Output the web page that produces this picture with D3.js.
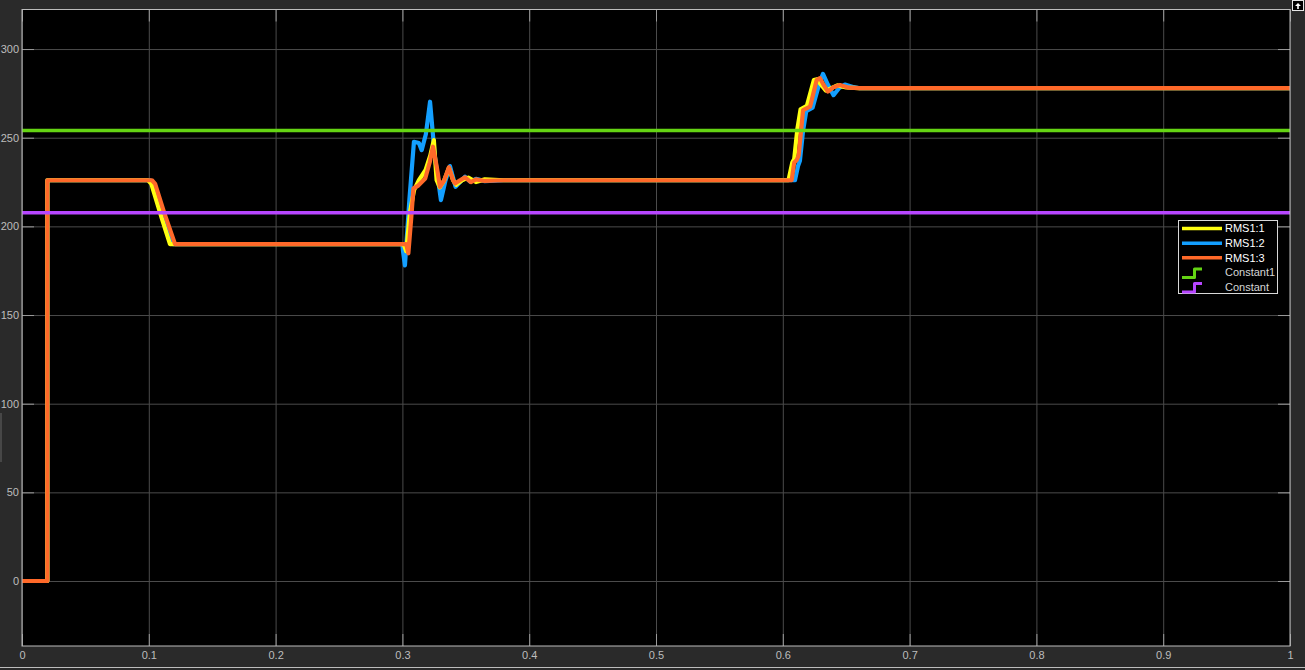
<!DOCTYPE html>
<html>
<head>
<meta charset="utf-8">
<title>Scope</title>
<script src="https://d3js.org/d3.v7.min.js"></script>
<style>
    body {
        margin: 0;
        background: #2a2a2a;
        font-family: "Liberation Sans", Arial, sans-serif;
    }
    .grid text {
        fill: #bdbdbd;
        font-size: 11px;
    }
    .grid line {
        stroke: #4b4b4b;
        stroke-width: 1;
    }
    .grid path, .marks path {
        display: none;
    }
    .marks line {
        stroke: #9a9a9a;
    }
    .legend text {
        font-size: 11px;
    }
</style>
</head>
<body>
<script>

    // tick values
    var xTicks = [0, 0.1, 0.2, 0.3, 0.4, 0.5, 0.6, 0.7, 0.8, 0.9, 1];
    var xTickLabels = ["0", "0.1", "0.2", "0.3", "0.4", "0.5", "0.6", "0.7", "0.8", "0.9", "1"];
    var yTicks = [0, 50, 100, 150, 200, 250, 300];

    // RMS1:1 (yellow)
    var rms1T = [0, 0.02, 0.02, 0.0994, 0.102, 0.110, 0.1167, 0.3, 0.3015, 0.303, 0.306, 0.3092, 0.313, 0.3183, 0.322, 0.3248, 0.327, 0.3295, 0.333, 0.3367, 0.340, 0.3425, 0.347, 0.352, 0.358, 0.365, 0.38,
        0.6045, 0.6075, 0.609, 0.6115, 0.614, 0.619, 0.6245, 0.627, 0.630, 0.634, 0.643, 0.650, 0.66, 1];
    var rms1V = [0, 0, 226, 226, 224, 205, 190, 190, 189, 186, 208, 220.5, 226, 231.8, 240, 248.7, 226, 222, 226, 233, 226, 223.5, 226, 227.5, 225, 226.5, 226,
        226, 236, 238, 255, 266, 268, 282.5, 283, 280, 276.5, 279.5, 278.3, 278, 278];

    // RMS1:2 (blue)
    var rms2T = [0, 0.02, 0.02, 0.101, 0.1035, 0.111, 0.119, 0.3, 0.3005, 0.302, 0.3055, 0.3091, 0.313, 0.3152, 0.3185, 0.3218, 0.3255, 0.3304, 0.334, 0.3375, 0.3419, 0.3455, 0.3494, 0.3535, 0.358, 0.365, 0.38,
        0.6096, 0.612, 0.6135, 0.616, 0.6185, 0.6235, 0.629, 0.6317, 0.6355, 0.640, 0.6445, 0.649, 0.656, 0.66, 1];
    var rms2V = [0, 0, 226, 226, 223, 206, 190, 190, 186, 178, 215, 247.7, 247, 243, 252, 270.3, 240, 214.8, 226, 234, 222.3, 225, 228, 225.2, 226.8, 225.5, 226,
        226, 234, 237, 254, 265, 267, 281, 286, 280, 274, 278, 280, 278.5, 278, 278];

    // RMS1:3 (orange)
    var rms3T = [0, 0.02, 0.02, 0.1025, 0.105, 0.112, 0.1207, 0.3, 0.303, 0.3047, 0.307, 0.3087, 0.3125, 0.318, 0.3215, 0.3241, 0.327, 0.3296, 0.333, 0.3367, 0.340, 0.3415, 0.3455, 0.3494, 0.354, 0.358, 0.365, 0.38,
        0.607, 0.609, 0.611, 0.6125, 0.616, 0.6215, 0.6267, 0.6293, 0.632, 0.6356, 0.640, 0.6451, 0.652, 0.66, 1];
    var rms3V = [0, 0, 226, 226, 224, 208, 190, 190, 190, 184.8, 205, 221.4, 223, 227, 236, 244.9, 234, 222.3, 226, 233.3, 226, 224.2, 226, 227.6, 225, 226.5, 225.6, 226,
        226, 236, 237.4, 240, 265.6, 267.5, 282.5, 283.6, 280, 276, 278.5, 279.7, 278.2, 278, 278];

    // constants
    var constant1Value = 254;
    var constantValue = 207.7;

    var legendNames = ["RMS1:1", "RMS1:2", "RMS1:3", "Constant1", "Constant"];
    var colors = ["#ffff11", "#139fff", "#ff6929", "#64d413", "#b746ff"];

    var width = 1305, height = 670;
    var plot = { left: 22, right: 1290, top: 9.5, bottom: 646 };

    var svg = d3.select("body").append("svg")
        .attr("width", width)
        .attr("height", height);

    // figure frame details
    svg.append("rect")
        .attr("x", 0).attr("y", 0)
        .attr("width", width).attr("height", height)
        .style("fill", "#2a2a2a");
    svg.append("line")
        .attr("x1", 0).attr("x2", width)
        .attr("y1", 667.5).attr("y2", 667.5)
        .style("stroke", "#bdbdbd");
    svg.append("rect")
        .attr("x", 0).attr("y", 413)
        .attr("width", 2).attr("height", 49)
        .style("fill", "#474747");

    var x = d3.scaleLinear()
        .domain([0, 1])
        .range([plot.left, plot.right]);

    var y = d3.scaleLinear()
        .domain([-36.65, 322.3])
        .range([plot.bottom, plot.top]);

    // axes background
    svg.append("rect")
        .attr("x", plot.left).attr("y", plot.top)
        .attr("width", plot.right - plot.left)
        .attr("height", plot.bottom - plot.top)
        .style("fill", "#000");

    // grid + labels
    svg.append("g")
        .attr("class", "grid")
        .attr("color", "#bdbdbd")
        .attr("transform", "translate(0," + plot.bottom + ")")
        .call(d3.axisBottom(x)
            .tickValues(xTicks)
            .tickFormat(function (d, i) { return xTickLabels[i]; })
            .tickSize(-(plot.bottom - plot.top))
            .tickPadding(5));

    svg.append("g")
        .attr("class", "grid")
        .attr("color", "#bdbdbd")
        .attr("transform", "translate(" + plot.left + ",0)")
        .call(d3.axisLeft(y)
            .tickValues(yTicks)
            .tickSize(-(plot.right - plot.left))
            .tickPadding(3));

    // short inner tick marks
    svg.append("g").attr("class", "marks")
        .attr("transform", "translate(0," + plot.bottom + ")")
        .call(d3.axisBottom(x).tickValues(xTicks).tickSize(-12).tickFormat(""));
    svg.append("g").attr("class", "marks")
        .attr("transform", "translate(0," + plot.top + ")")
        .call(d3.axisTop(x).tickValues(xTicks).tickSize(-12).tickFormat(""));
    svg.append("g").attr("class", "marks")
        .attr("transform", "translate(" + plot.left + ",0)")
        .call(d3.axisLeft(y).tickValues(yTicks).tickSize(-12).tickFormat(""));
    svg.append("g").attr("class", "marks")
        .attr("transform", "translate(" + plot.right + ",0)")
        .call(d3.axisRight(y).tickValues(yTicks).tickSize(-12).tickFormat(""));

    svg.append("clipPath").attr("id", "clip")
        .append("rect")
        .attr("x", plot.left).attr("y", plot.top)
        .attr("width", plot.right - plot.left)
        .attr("height", plot.bottom - plot.top);

    var line = d3.line()
        .x(function (d) { return x(d[0]); })
        .y(function (d) { return y(d[1]); });

    var series = [
        { t: rms2T, v: rms2V, color: colors[1] },
        { t: rms1T, v: rms1V, color: colors[0] },
        { t: rms3T, v: rms3V, color: colors[2] }
    ];

    var lines = svg.append("g").attr("clip-path", "url(#clip)");

    series.forEach(function (s) {
        lines.append("path")
            .datum(d3.zip(s.t, s.v))
            .attr("d", line)
            .style("fill", "none")
            .style("stroke", s.color)
            .style("stroke-width", 4.2)
            .style("stroke-linejoin", "round");
    });

    [[constant1Value, colors[3]], [constantValue, colors[4]]].forEach(function (c) {
        lines.append("path")
            .datum([[0, c[0]], [1, c[0]]])
            .attr("d", line)
            .style("fill", "none")
            .style("stroke", c[1])
            .style("stroke-width", 3.5);
    });

    // axes box
    svg.append("rect")
        .attr("x", plot.left).attr("y", plot.top)
        .attr("width", plot.right - plot.left)
        .attr("height", plot.bottom - plot.top)
        .style("fill", "none")
        .style("stroke", "#bcbcbc")
        .style("stroke-width", 1);

    // legend
    var legend = svg.append("g").attr("class", "legend");
    legend.append("rect")
        .attr("x", 1178.5).attr("y", 220.5)
        .attr("width", 99).attr("height", 73)
        .style("fill", "#000")
        .style("stroke", "#d8d8d8");

    var rowY = d3.scalePoint().domain(legendNames).range([228.5, 287]);

    legendNames.forEach(function (name, i) {
        var yy = rowY(name);
        if (i < 3) {
            legend.append("line")
                .attr("x1", 1182).attr("x2", 1222)
                .attr("y1", yy).attr("y2", yy)
                .style("stroke", colors[i])
                .style("stroke-width", 3.5);
        } else {
            legend.append("path")
                .attr("d", "M1182," + (yy + 5) + "H1194.5V" + (yy - 3.5) + "H1202")
                .style("fill", "none")
                .style("stroke", colors[i])
                .style("stroke-width", 3)
                .style("stroke-linejoin", "round");
        }
        legend.append("text")
            .attr("x", 1225)
            .attr("y", yy)
            .attr("dy", "0.35em")
            .style("fill", i < 3 ? "#ffffff" : "#d6d6d6")
            .text(name);
    });

    // little undock button, top right
    svg.append("rect")
        .attr("x", 1292.5).attr("y", 0.5)
        .attr("width", 11).attr("height", 10)
        .style("fill", "#000")
        .style("stroke", "#e6e6e6");
    svg.append("path")
        .attr("d", "M1295,6 L1298,3 L1301,6 Z M1297.2,6 V9 H1298.8 V6 Z")
        .style("fill", "#ffffff");

</script>
</body>
</html>
